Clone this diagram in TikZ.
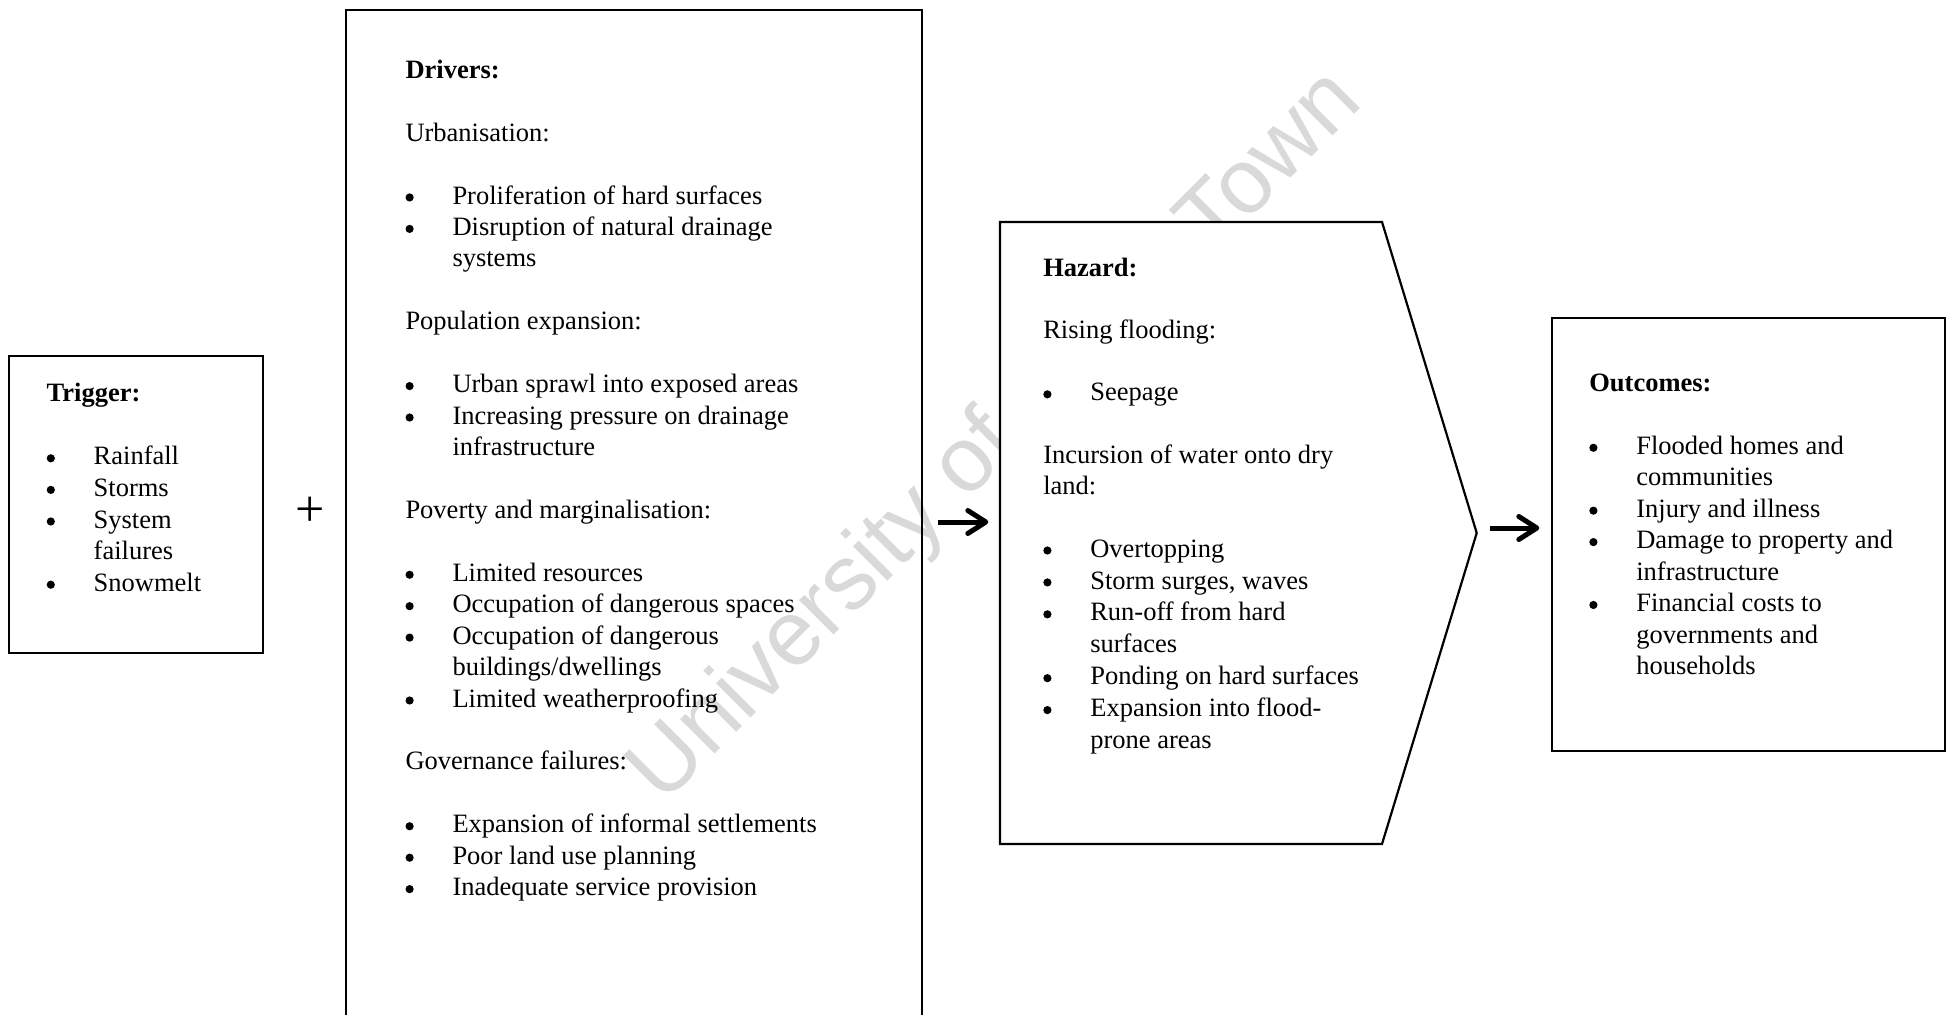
\documentclass[tikz,border=0pt]{standalone}
\usepackage{fontspec}
\setmainfont{Liberation Serif}
\newfontfamily\wmfont{Liberation Sans}
\usetikzlibrary{arrows.meta}

% body text helpers
\newcommand{\bulletdot}{\tikz[baseline=-3.3pt]\fill (0,0) circle (2.05pt);}
\newcommand{\itm}[1]{\par\hangindent=23.5pt\hangafter=1\noindent\makebox[23.5pt][l]{\bulletdot}#1}
\newcommand{\skipline}{\par\vspace{\baselineskip}}
\newcommand{\lines}[1]{\fontsize{13.25pt}{#1}\selectfont}
\newcommand{\boxtext}[3]{\parbox[t]{#1}{\lines{#2}\raggedright\parindent=0pt\parskip=0pt #3}}

\begin{document}
\begin{tikzpicture}[x=0.5pt, y=-0.5pt,
  box/.style={draw, line width=1.1pt, inner sep=0pt, outer sep=0pt},
  body/.style={anchor=base west, inner sep=0pt, outer sep=0pt},
  bigarrow/.style={line width=2.5pt, -{Straight Barb[length=9pt, width=11.5pt, round]}}
]
\useasboundingbox (0,0) rectangle (1952,1015);
\fill[white] (0,0) rectangle (1952,1015);
\clip (0,0) rectangle (1952,1015);

% watermark
\node[rotate=45, inner sep=0pt, text=black!15, font=\wmfont\fontsize{46pt}{46pt}\selectfont] (wm) at (997,438) {University of Cape Town};

% boxes
\node[box, minimum width=127pt, minimum height=148.5pt] (trigger) at (136,504.5) {};
\node[box, minimum width=288pt, minimum height=515pt] (drivers) at (634,525) {};
\node[inner sep=0pt, outer sep=0pt, minimum width=191pt, minimum height=311pt] (hazard) at (1191,533) {};
\coordinate (hazardtip) at ([xshift=47.35pt]hazard.east);
\draw[line width=1.1pt, fill=white] (hazard.north west) -- (hazard.north east) -- (hazardtip)
  -- (hazard.south east) -- (hazard.south west) -- cycle;
\node[box, minimum width=196.5pt, minimum height=216.5pt] (outcomes) at (1748.5,534.5) {};

% plus sign
\node[inner sep=0pt, font=\fontsize{26pt}{26pt}\selectfont] (plus) at (310,512) {+};

% arrows
\draw[bigarrow, shorten <=8pt, shorten >=5.85pt] (drivers.east |- 0,522) -- (hazard.west |- 0,522);
\draw[bigarrow, shorten <=6.65pt, shorten >=6.35pt] (hazardtip |- 0,528) -- (outcomes.west |- 0,528);

% texts
\node[body] (triggertext) at (46.7,401.7) {\boxtext{110pt}{15.8pt}{%
\textbf{Trigger:}\skipline
\itm{Rainfall}
\itm{Storms}
\itm{System\newline failures}
\itm{Snowmelt}}};

\node[body] (driverstext) at (405.5,78.3) {\boxtext{250pt}{15.72pt}{%
\textbf{Drivers:}\skipline
Urbanisation:\skipline
\itm{Proliferation of hard surfaces}
\itm{Disruption of natural drainage\newline systems}\skipline
Population expansion:\skipline
\itm{Urban sprawl into exposed areas}
\itm{Increasing pressure on drainage\newline infrastructure}\skipline
Poverty and marginalisation:\skipline
\itm{Limited resources}
\itm{Occupation of dangerous spaces}
\itm{Occupation of dangerous\newline buildings/dwellings}
\itm{Limited weatherproofing}\skipline
Governance failures:\skipline
\itm{Expansion of informal settlements}
\itm{Poor land use planning}
\itm{Inadequate service provision}}};

\node[body] (hazardtext) at (1043.3,276.7) {\boxtext{170pt}{15.53pt}{%
\textbf{Hazard:}\skipline
Rising flooding:\skipline
\itm{Seepage}\skipline
Incursion of water onto dry\newline land:\skipline
\lines{15.96pt}%
\itm{Overtopping}
\itm{Storm surges, waves}
\itm{Run-off from hard\newline surfaces}
\itm{Ponding on hard surfaces}
\itm{Expansion into flood-\newline prone areas}}};

\node[body] (outcomestext) at (1589.3,391.5) {\boxtext{170pt}{15.72pt}{%
\textbf{Outcomes:}\skipline
\itm{Flooded homes and\newline communities}
\itm{Injury and illness}
\itm{Damage to property and\newline infrastructure}
\itm{Financial costs to\newline governments and\newline households}}};
\end{tikzpicture}
\end{document}
